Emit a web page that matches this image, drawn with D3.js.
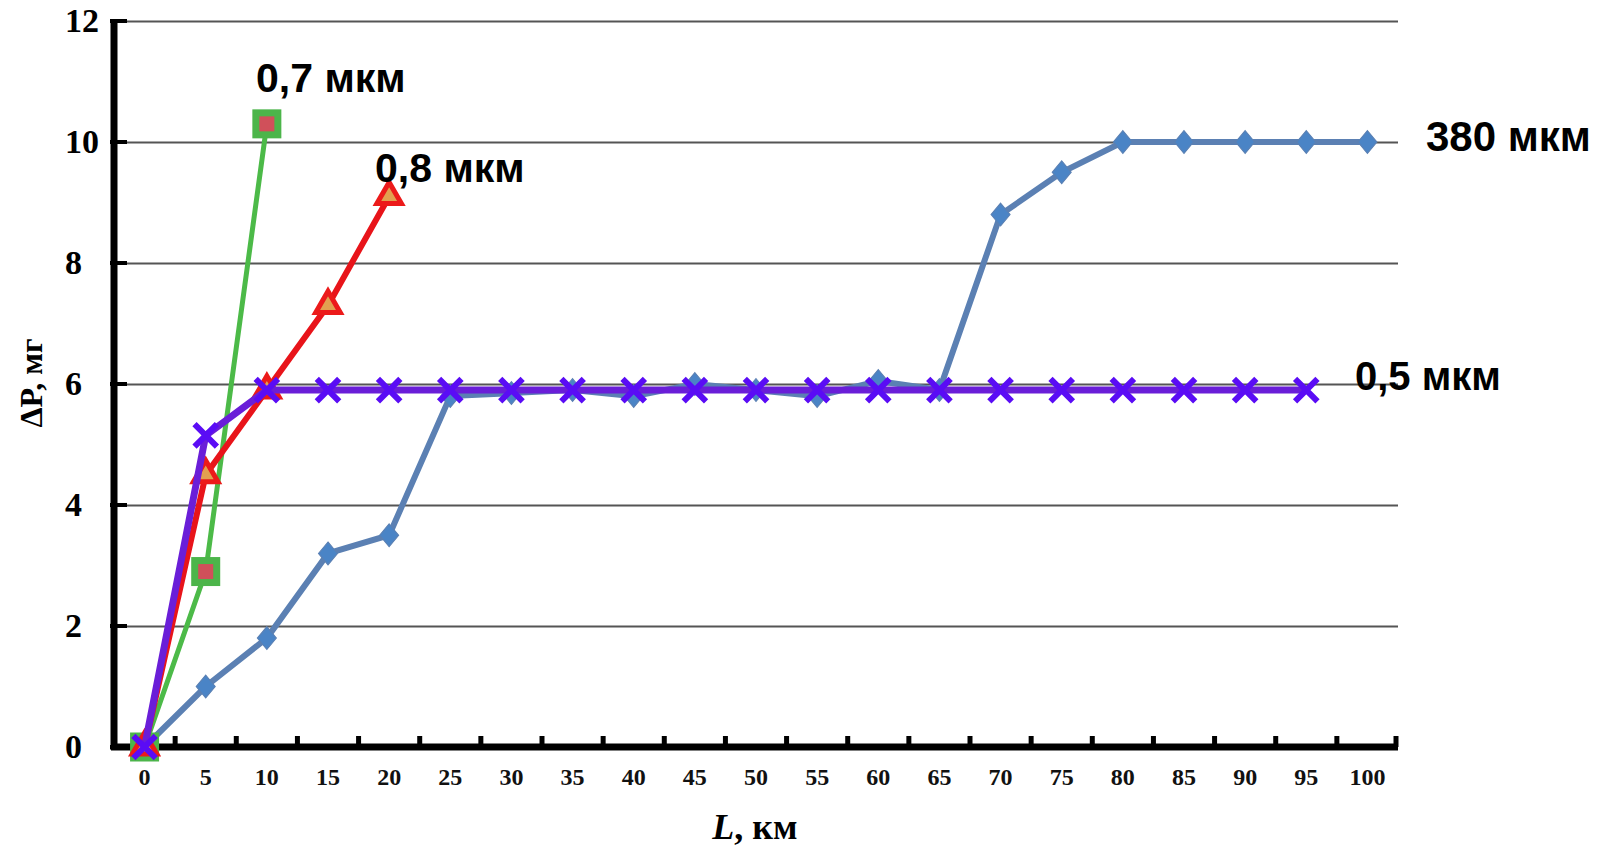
<!DOCTYPE html>
<html>
<head>
<meta charset="utf-8">
<script src="https://cdn.jsdelivr.net/npm/d3@7"></script>
<style>
  body { margin: 0; background: #fff; }
  svg { display: block; }
</style>
</head>
<body>
<div id="chart"></div>
<script>
// data
let distances = ['0', '5', '10', '15', '20', '25', '30', '35', '40', '45', '50',
    '55', '60', '65', '70', '75', '80', '85', '90', '95', '100'];
let yTicks = [0, 2, 4, 6, 8, 10, 12];

let s380 = [0, 1.0, 1.8, 3.2, 3.5, 5.8, 5.85, 5.9, 5.8, 6.0, 5.9, 5.8, 6.05, 5.9, 8.8, 9.5, 10, 10, 10, 10, 10];
let s07 = [0, 2.9, 10.3];
let s08 = [0, 4.5, 5.9, 7.3, 9.1];
let s05 = [0, 5.15, 5.9, 5.9, 5.9, 5.9, 5.9, 5.9, 5.9, 5.9, 5.9, 5.9, 5.9, 5.9, 5.9, 5.9, 5.9, 5.9, 5.9, 5.9];

let svgWidth = 1606;
let svgHeight = 847;

let svg = d3.select('#chart').append('svg')
    .attr('width', svgWidth)
    .attr('height', svgHeight);

// scales
let x = d3.scaleBand()
    .domain(distances)
    .range([114, 1398]);
let y = d3.scaleLinear()
    .domain([0, 12])
    .range([747, 21]);

let cx = i => x(distances[i]) + x.bandwidth() / 2;

// gridlines
svg.append('g')
    .attr('transform', `translate(${x.range()[0]},0)`)
    .call(d3.axisLeft(y).tickValues(yTicks.slice(1)).tickSize(-(x.range()[1] - x.range()[0])).tickFormat(''))
    .call(g => g.select('.domain').remove())
    .call(g => g.selectAll('line').attr('stroke', '#555').attr('stroke-width', 2));

// y tick labels
svg.append('g').selectAll('text')
    .data(yTicks)
    .join('text')
    .attr('x', 65)
    .attr('y', d => y(d) + 11)
    .attr('font-family', 'Liberation Serif, serif')
    .attr('font-weight', 'bold')
    .attr('font-size', 34)
    .text(d => d);

// x tick labels
svg.append('g')
    .attr('transform', 'translate(0,747)')
    .call(d3.axisBottom(x).tickSize(0).tickPadding(0))
    .call(g => g.select('.domain').remove())
    .call(g => g.selectAll('text')
        .attr('dy', 0)
        .attr('y', 38)
        .attr('fill', '#111')
        .attr('font-family', 'Liberation Serif, serif')
        .attr('font-weight', 'bold')
        .attr('font-size', 24));

// axis lines + ticks
let axes = svg.append('g').attr('stroke', '#000');
axes.append('line')
    .attr('x1', 114).attr('x2', 114)
    .attr('y1', y(12) - 2).attr('y2', 750)
    .attr('stroke-width', 7);
axes.append('line')
    .attr('x1', 111).attr('x2', 1398)
    .attr('y1', 747).attr('y2', 747)
    .attr('stroke-width', 7);
axes.selectAll('.ytick')
    .data(yTicks)
    .join('line')
    .attr('x1', 110).attr('x2', 127)
    .attr('y1', d => y(d)).attr('y2', d => y(d))
    .attr('stroke-width', 4);
axes.selectAll('.xtick')
    .data(distances.slice(1).concat(['end']))
    .join('line')
    .attr('x1', d => d === 'end' ? 1396 : x(d))
    .attr('x2', d => d === 'end' ? 1396 : x(d))
    .attr('y1', 747).attr('y2', 736)
    .attr('stroke-width', 5);

let line = d3.line().x((d, i) => cx(i)).y(d => y(d));

// 380 мкм
svg.append('path').datum(s380)
    .attr('d', line).attr('fill', 'none')
    .attr('stroke', '#5b80b3').attr('stroke-width', 6);
svg.append('g').selectAll('path')
    .data(s380).join('path')
    .attr('d', d3.symbol(d3.symbolDiamond2, 230))
    .attr('transform', (d, i) => `translate(${cx(i)},${y(d)}) scale(1,1.2)`)
    .attr('fill', '#4a84c6').attr('stroke', '#5b80b3').attr('stroke-width', 1);

// 0,7 мкм
svg.append('path').datum(s07)
    .attr('d', line).attr('fill', 'none')
    .attr('stroke', '#4cba48').attr('stroke-width', 5);
svg.append('g').selectAll('rect')
    .data(s07).join('rect')
    .attr('x', (d, i) => cx(i) - 11).attr('y', d => y(d) - 11)
    .attr('width', 22).attr('height', 22)
    .attr('fill', '#d0505a').attr('stroke', '#4cb54a').attr('stroke-width', 7);

// 0,8 мкм
svg.append('path').datum(s08)
    .attr('d', line).attr('fill', 'none')
    .attr('stroke', '#e8141a').attr('stroke-width', 6);
svg.append('g').selectAll('path')
    .data(s08).join('path')
    .attr('d', d3.symbol(d3.symbolTriangle, 260))
    .attr('transform', (d, i) => `translate(${cx(i)},${y(d)})`)
    .attr('fill', '#e2a050').attr('stroke', '#ec1a1a').attr('stroke-width', 5);

// 0,5 мкм
svg.append('path').datum(s05)
    .attr('d', line).attr('fill', 'none')
    .attr('stroke', '#6a1ed8').attr('stroke-width', 7);
svg.append('g').selectAll('path')
    .data(s05).join('path')
    .attr('d', d3.symbol(d3.symbolX, 330))
    .attr('transform', (d, i) => `translate(${cx(i)},${y(d)})`)
    .attr('fill', 'none').attr('stroke', '#5a0cf5').attr('stroke-width', 6);

// series labels
let labels = [
    {t: '0,7 мкм', x: 256, y: 92, s: 41},
    {t: '0,8 мкм', x: 375, y: 182, s: 41},
    {t: '380 мкм', x: 1426, y: 151, s: 42},
    {t: '0,5 мкм', x: 1355, y: 390, s: 40}
];
svg.append('g').selectAll('text')
    .data(labels).join('text')
    .attr('x', d => d.x).attr('y', d => d.y)
    .attr('font-family', 'Liberation Sans, Arial, sans-serif')
    .attr('font-weight', 'bold')
    .attr('font-size', d => d.s)
    .text(d => d.t);

// axis titles
svg.append('text')
    .attr('transform', 'translate(42,383) rotate(-90)')
    .attr('text-anchor', 'middle')
    .attr('font-family', 'Liberation Serif, serif')
    .attr('font-weight', 'bold')
    .attr('font-size', 32)
    .text('ΔP, мг');

let xt = svg.append('text')
    .attr('x', 755).attr('y', 839)
    .attr('text-anchor', 'middle')
    .attr('font-family', 'Liberation Serif, serif')
    .attr('font-weight', 'bold')
    .attr('font-size', 36);
xt.append('tspan').attr('font-style', 'italic').text('L');
xt.append('tspan').text(', км');
</script>
</body>
</html>
